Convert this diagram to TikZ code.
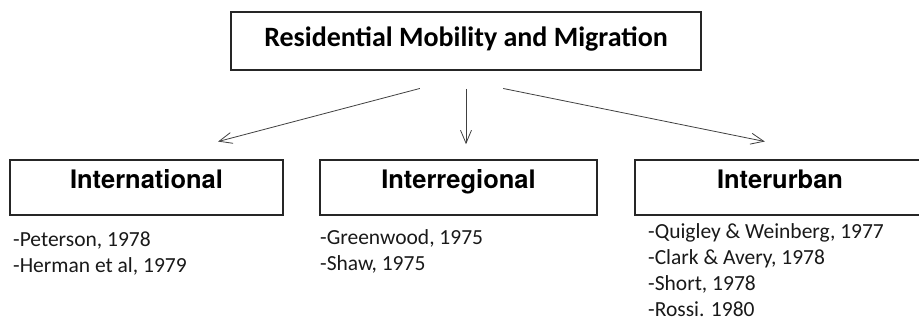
\documentclass[tikz,border=0pt]{standalone}
\usepackage{fontspec}
\setmainfont{Carlito}
\newfontfamily\headfont{TeX Gyre Heros}
\usetikzlibrary{arrows.meta}
\begin{document}
\begin{tikzpicture}[x=1pt,y=-1pt,
  frame/.style={draw=black!85, line width=1.6pt, inner sep=0pt},
  titlebox/.style={frame, minimum width=470pt, text height=35pt, text depth=23pt,
    font=\bfseries\fontsize{28}{32}\selectfont},
  catbox/.style={frame, text height=28pt, text depth=27pt,
    font=\headfont\bfseries\fontsize{25.5}{30}\selectfont},
  refs/.style={anchor=base west, align=left, inner sep=0pt,
    font=\fontsize{21.5}{25.7}\selectfont, text=black!90},
  arr/.style={draw=black!75, line width=0.8pt, -{Straight Barb[length=13pt,width=11pt,line width=0.8pt]}}
]
\useasboundingbox (0,0) rectangle (919,321);

% heading box
\node[titlebox] (top) at (466,41) {Residential Mobility and Migration};

% three categories
\node[catbox, minimum width=273pt] (intl) at (146.5,187.5) {International};
\node[catbox, minimum width=277pt] (inreg) at (458.5,187.5) {Interregional};
\node[catbox, minimum width=290pt] (inurb) at (780,187.5) {Interurban};

% connectors
\draw[arr, shorten <=69.4pt, shorten >=69.4pt]
  ([xshift=21pt]top.south) -- ([xshift=4.5pt]intl.north);
\draw[arr, shorten <=18pt, shorten >=15pt]
  (top.south) -- (top.south |- inreg.north);
\draw[arr, shorten <=89pt, shorten >=89pt]
  ([xshift=-50pt]top.south) -- ([xshift=72pt]inurb.north);

% references under each category (anchored at the last line's baseline)
\node[refs] (r1) at (13,272.5) {-Peterson, 1978\\-Herman et al, 1979};
\node[refs] (r2) at (320,270) {-Greenwood, 1975\\-Shaw, 1975};
\node[refs] (r3) at (648,316) {-Quigley \& Weinberg, 1977\\-Clark \& Avery, 1978\\-Short, 1978\\-Rossi. 1980};
\end{tikzpicture}
\end{document}
